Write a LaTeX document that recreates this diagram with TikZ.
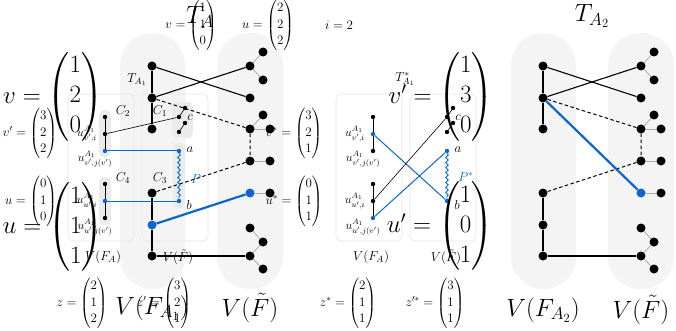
\RequirePackage{fix-cm}
\documentclass[tikz,border=0pt]{standalone}
\usepackage{amsmath}
\usetikzlibrary{decorations.pathmorphing}
\definecolor{pathblue}{HTML}{0A66CC}
\definecolor{colbg}{HTML}{F4F4F4}
\definecolor{subbg}{HTML}{EBEBEB}
\definecolor{boxline}{HTML}{E4E4E4}

\begin{document}
\begin{tikzpicture}[
    x=1pt, y=-1pt,
    every node/.style={font=\fontsize{13}{16.5}\selectfont},
    vtx/.style={circle, fill=black, inner sep=0pt, minimum size=9pt},
    sdot/.style={circle, fill=black, inner sep=0pt, minimum size=4.4pt},
    column/.style={fill=colbg, rounded corners=32pt},
    panelbox/.style={draw=boxline, line width=0.6pt, rounded corners=5pt},
    subbox/.style={fill=subbg, rounded corners=5pt},
    tedge/.style={line width=1.1pt},
    thinedge/.style={line width=0.6pt},
    leafedge/.style={draw=gray!65, line width=0.8pt},
    dashedge/.style={line width=1pt, dash pattern=on 3.5pt off 2.5pt},
    blueedge/.style={pathblue, line width=2.2pt},
    bluethin/.style={pathblue, line width=1pt},
    wavy/.style={pathblue, line width=0.9pt, decorate,
                 decoration={snake, amplitude=1.3pt, segment length=5pt}},
    ulab/.style={font=\fontsize{12}{14}\selectfont},
    big/.style={font=\fontsize{25}{30}\selectfont}
  ]
  \useasboundingbox (0,0) rectangle (676,331);

  % columns of both trees
  \foreach \dx in {0,391} {
    \path[column] (120+\dx,33) rectangle (185+\dx,289);
    \path[column] (217+\dx,33) rectangle (283+\dx,289);
  }

  % boxes of the two small panels
  \foreach \dx in {0,268} {
    \draw[panelbox] (68+\dx,94) rectangle (134+\dx,241);
    \draw[panelbox] (142+\dx,94) rectangle (208+\dx,241);
  }
  \path[subbox] (99,110) rectangle (111,157);
  \path[subbox] (99,177) rectangle (111,225);
  \path[subbox] (172,102) rectangle (193,138);
  \path[subbox] (173,143) rectangle (185,208);

  % trees T_A and T_{A_2}
  \foreach \p/\dx/\ca in {L/0/pathblue, R/391/black} {
    \foreach \i/\y in {1/66, 2/98, 3/129, 4/193, 6/256}
      \node[vtx] (A\p\i) at (152+\dx,\y) {};
    \node[vtx, fill=\ca] (A\p5) at (152+\dx,225) {};
    \foreach \i/\y in {1/66, 2/98, 3/129, 4/161, 6/228, 7/256}
      \node[vtx] (F\p\i) at (250+\dx,\y) {};
    \node[vtx, fill=pathblue] (F\p5) at (250+\dx,193) {};
    \foreach \i/\x/\y in {1a/13/52, 1b/13/80, 3a/13/115, 3b/20/129,
                          4/20/161, 5/20/193, 6/13/242, 7/13/269}
      \node[vtx] (G\p\i) at (250+\dx+\x,\y) {};

    \draw[tedge] (A\p1) -- (A\p2) -- (A\p3);
    \draw[tedge] (A\p4) -- (A\p5) -- (A\p6);
    \draw[tedge] (A\p1) -- (F\p2);
    \draw[tedge] (A\p2) -- (F\p1);
    \draw[tedge] (A\p6) -- (F\p7);
    \draw[dashedge] (A\p2) -- (F\p3) -- (F\p4) -- (A\p4);
    \draw[leafedge] (F\p1) -- (G\p1a);
    \draw[leafedge] (F\p1) -- (G\p1b);
    \draw[leafedge] (F\p3) -- (G\p3a);
    \draw[leafedge] (F\p3) -- (G\p3b);
    \draw[leafedge] (F\p4) -- (G\p4);
    \draw[leafedge] (F\p5) -- (G\p5);
    \draw[leafedge] (F\p6) -- (G\p6) -- (F\p7) -- (G\p7);
  }
  \draw[blueedge] (AL5) -- (FL5);
  \draw[blueedge] (AR2) -- (FR5);

  % small panels with the paths P and P^*
  \foreach \p/\dx/\ca/\cb in {l/0/black/pathblue, m/268/pathblue/black} {
    \node[sdot] (U\p1) at (105+\dx,117) {};
    \node[sdot, fill=\ca] (U\p2) at (105+\dx,134) {};
    \node[sdot, fill=\cb] (U\p3) at (105+\dx,151) {};
    \node[sdot] (U\p4) at (105+\dx,184) {};
    \node[sdot, fill=\cb] (U\p5) at (105+\dx,201) {};
    \node[sdot, fill=\ca] (U\p6) at (105+\dx,218) {};
    \node[sdot] (C\p1) at (185+\dx,108) {};
    \node[sdot] (C\p2) at (179+\dx,117) {};
    \node[sdot] (C\p3) at (185+\dx,123) {};
    \node[sdot] (C\p4) at (179+\dx,132) {};
    \node[sdot, fill=pathblue] (a\p) at (179+\dx,151) {};
    \node[sdot, fill=pathblue] (b\p) at (179+\dx,201) {};

    \draw[thinedge] (U\p1) -- (U\p2) -- (U\p3);
    \draw[thinedge] (U\p4) -- (U\p5) -- (U\p6);
    \draw[thinedge] (C\p1) -- (C\p2);
    \draw[thinedge] (C\p3) -- (C\p4);
    \draw[wavy] (a\p) -- (b\p);

    \node[ulab] (lvi\p) at (87+\dx,134) {$u^{A_1}_{v',i}$};
    \node[ulab] (lvj\p) at (95+\dx,159) {$u^{A_1}_{v',j(v')}$};
    \node[ulab] (lui\p) at (87+\dx,201) {$u^{A_1}_{u',i}$};
    \node[ulab] (luj\p) at (95+\dx,227) {$u^{A_1}_{u',j(v')}$};
    \node (lc\p) at (190+\dx,118) {$c$};
    \node (la\p) at (190+\dx,150) {$a$};
    \node (lb\p) at (189+\dx,205) {$b$};
    \node (lfa\p) at (103+\dx,257) {$V(F_A)$};
    \node (lft\p) at (178+\dx,257) {$V(\tilde{F})$};
  }
  \draw[bluethin] (Ul3) -- (al);
  \draw[bluethin] (Ul5) -- (bl);
  \draw[thinedge] (Ul2) -- (Cl2);
  \draw[bluethin] (Um2) -- (bm);
  \draw[bluethin] (Um6) -- (am);
  \draw[thinedge] (Um5) -- (Cm2);

  % labels
  \node (tA1) at (137,80) {$T_{A_1}$};
  \node (tA1s) at (405,79) {$T^*_{A_1}$};
  \node (c2) at (123,111) {$C_2$};
  \node (c1) at (160,111) {$C_1$};
  \node (c4) at (123,178) {$C_4$};
  \node (c3) at (160,178) {$C_3$};
  \node[text=pathblue] (lP) at (196,179) {$P$};
  \node[text=pathblue] (lPs) at (466,177) {$P^*$};

  % vectors
  \node (vs) at (191,25) {$v = \begin{pmatrix}1\\1\\0\end{pmatrix}$};
  \node (us) at (268,25) {$u = \begin{pmatrix}2\\2\\2\end{pmatrix}$};
  \node (is) at (339,25) {$i = 2$};
  \node (vps) at (30,133) {$v' = \begin{pmatrix}3\\2\\2\end{pmatrix}$};
  \node (ups) at (31,201) {$u = \begin{pmatrix}0\\1\\0\end{pmatrix}$};
  \node (vst) at (294,133) {$v^* = \begin{pmatrix}3\\2\\1\end{pmatrix}$};
  \node (ust) at (294,201) {$u^* = \begin{pmatrix}0\\1\\1\end{pmatrix}$};
  \node (z) at (82,303) {$z = \begin{pmatrix}2\\1\\2\end{pmatrix}$};
  \node (zp) at (164,303) {$z' = \begin{pmatrix}3\\2\\1\end{pmatrix}$};
  \node (zs) at (348,303) {$z^* = \begin{pmatrix}2\\1\\1\end{pmatrix}$};
  \node (zps) at (435,303) {$z'^* = \begin{pmatrix}3\\1\\1\end{pmatrix}$};

  % large captions
  \node[big] (tA) at (200,17) {$T_A$};
  \node[big] (tA2) at (592,16) {$T_{A_2}$};
  \node[big] (vb) at (53,97) {$v = \begin{pmatrix}1\\2\\0\end{pmatrix}$};
  \node[big] (ub) at (53,227) {$u = \begin{pmatrix}1\\1\\1\end{pmatrix}$};
  \node[big] (vpb) at (441,97) {$v' = \begin{pmatrix}1\\3\\0\end{pmatrix}$};
  \node[big] (upb) at (440,226) {$u' = \begin{pmatrix}1\\0\\1\end{pmatrix}$};
  \node[big] (vfa1) at (152,308) {$V(F_{A_1})$};
  \node[big] (vft1) at (250,308) {$V(\tilde{F})$};
  \node[big] (vfa2) at (543,310) {$V(F_{A_2})$};
  \node[big] (vft2) at (641,310) {$V(\tilde{F})$};
\end{tikzpicture}
\end{document}
